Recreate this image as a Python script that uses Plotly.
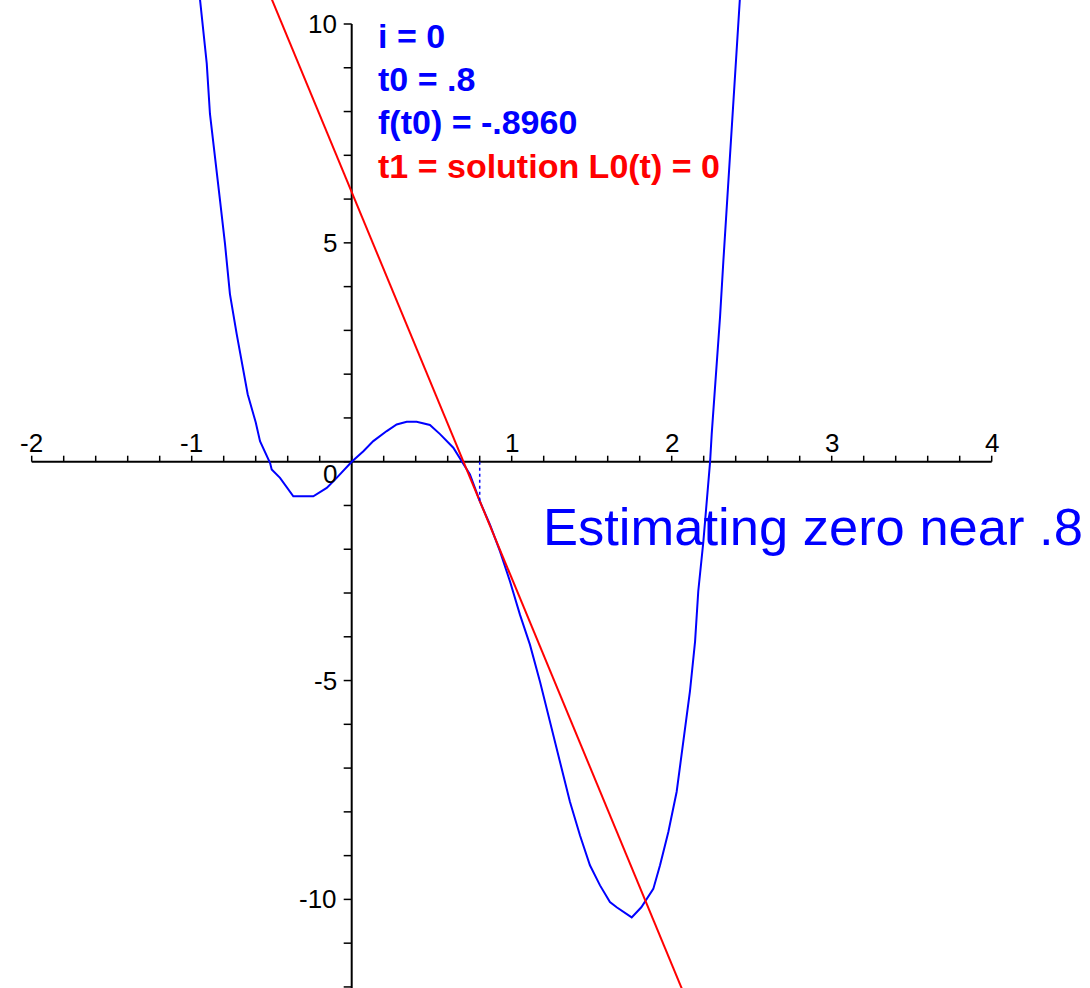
import plotly.graph_objects as go

# ---------------- data ----------------
curve_t = [-0.955, -0.927, -0.906, -0.886, -0.854, -0.823, -0.792, -0.761, -0.719,
           -0.6875, -0.65, -0.60, -0.573, -0.51, -0.50, -0.448, -0.365, -0.24,
           -0.156, -0.094, -0.045, 0.0, 0.073, 0.135, 0.219, 0.281, 0.344, 0.406,
           0.489, 0.552, 0.635, 0.6875, 0.739, 0.80, 0.864, 0.927, 0.989, 1.052,
           1.114, 1.177, 1.239, 1.302, 1.364, 1.427, 1.489, 1.552, 1.614, 1.656,
           1.75, 1.81, 1.885, 1.927, 1.979, 2.031, 2.073, 2.114, 2.146, 2.166,
           2.198, 2.229, 2.24, 2.25, 2.281, 2.302, 2.323, 2.344, 2.364, 2.385,
           2.406, 2.43]
curve_f = [10.8, 9.79, 9.10, 7.95, 6.88, 5.97, 4.98, 3.83, 2.92,
           2.30, 1.54, 0.90, 0.47, -0.03, -0.18, -0.37, -0.79, -0.79,
           -0.60, -0.37, -0.18, 0.0, 0.24, 0.47, 0.70, 0.85, 0.91, 0.91,
           0.84, 0.63, 0.32, 0.01, -0.29, -0.896, -1.44, -2.05, -2.73, -3.50,
           -4.18, -5.03, -5.94, -6.86, -7.77, -8.54, -9.22, -9.68, -10.06, -10.18,
           -10.41, -10.18, -9.76, -9.22, -8.46, -7.54, -6.40, -5.25, -4.11, -2.96,
           -1.82, -0.60, 0.0, 0.63, 2.15, 3.30, 4.59, 5.82, 7.11, 8.26,
           9.40, 10.8]

tangent_t = [-0.6, 2.2]
tangent_y = [11.452, -13.244]

t0 = 0.8
f_t0 = -0.896

x_axis_span = [-2, 4]
y_axis_top = 10
x_tick_values = [-2.0, -1.8, -1.6, -1.4, -1.2, -1.0, -0.8, -0.6, -0.4, -0.2, 0.0,
                 0.2, 0.4, 0.6, 0.8, 1.0, 1.2, 1.4, 1.6, 1.8, 2.0, 2.2, 2.4, 2.6,
                 2.8, 3.0, 3.2, 3.4, 3.6, 3.8, 4.0]
y_tick_values = [-12, -11, -10, -9, -8, -7, -6, -5, -4, -3, -2, -1, 0,
                 1, 2, 3, 4, 5, 6, 7, 8, 9, 10]
x_label_values = [-2, -1, 1, 2, 3, 4]
x_label_texts = ["-2", "-1", "1", "2", "3", "4"]
y_label_values = [10, 5, -5, -10]
y_label_texts = ["10", "5", "-5", "-10"]

info_lines = ["i = 0", "t0 = .8", "f(t0) = -.8960", "t1 = solution L0(t) = 0"]
info_colors = ["#0000ff", "#0000ff", "#0000ff", "#ff0000"]
caption = "Estimating zero near .8"

# ---------------- geometry ----------------
W, H = 1090, 988
XPX, YPX = 160.0, 43.77          # pixels per unit
X_ORIGIN, Y_ORIGIN = 351.7, 461.7  # pixel position of (0, 0)
x_range = [-X_ORIGIN / XPX, (W - X_ORIGIN) / XPX]
y_range = [-(H - Y_ORIGIN) / YPX, Y_ORIGIN / YPX]


def px_x(px):
    return (px - X_ORIGIN) / XPX


def px_y(py):
    return (Y_ORIGIN - py) / YPX


fig = go.Figure()

# axes
fig.add_trace(go.Scatter(x=[x_axis_span[0], x_axis_span[1]], y=[0, 0], mode="lines",
                         line=dict(color="black", width=2), hoverinfo="skip"))
fig.add_trace(go.Scatter(x=[0, 0], y=[y_range[0] - 1, y_axis_top], mode="lines",
                         line=dict(color="black", width=2), hoverinfo="skip"))

# tick marks
xt_len = 6 / YPX
yt_len = 8 / XPX
tx, ty = [], []
for v in x_tick_values:
    tx += [v, v, None]
    ty += [0, xt_len, None]
for v in y_tick_values:
    tx += [-yt_len, 0, None]
    ty += [v, v, None]
fig.add_trace(go.Scatter(x=tx, y=ty, mode="lines",
                         line=dict(color="black", width=1.5), hoverinfo="skip"))

# function curve
fig.add_trace(go.Scatter(x=curve_t, y=curve_f, mode="lines",
                         line=dict(color="#0000ff", width=2), hoverinfo="skip"))
# tangent line
fig.add_trace(go.Scatter(x=tangent_t, y=tangent_y, mode="lines",
                         line=dict(color="#ff0000", width=2), hoverinfo="skip"))
# dotted vertical at t0
fig.add_trace(go.Scatter(x=[t0, t0], y=[0, f_t0], mode="lines",
                         line=dict(color="#0000ff", width=1.5, dash="dot"), hoverinfo="skip"))

annotations = []
tick_font = dict(family="Liberation Sans, Arial, sans-serif", size=26, color="black")
for v, txt in zip(x_label_values, x_label_texts):
    annotations.append(dict(x=v, y=0, xref="x", yref="y", text=txt, showarrow=False,
                            xanchor="center", yanchor="middle", yshift=19,
                            font=tick_font))
for v, txt in zip(y_label_values, y_label_texts):
    annotations.append(dict(x=0, y=v, xref="x", yref="y", text=txt, showarrow=False,
                            xanchor="right", yanchor="middle", xshift=-13,
                            font=tick_font))
annotations.append(dict(x=0, y=0, xref="x", yref="y", text="0", showarrow=False,
                        xanchor="right", yanchor="middle", xshift=-13, yshift=-12,
                        font=tick_font))

info_y_px = [36, 79, 122, 166]
for txt, col, py in zip(info_lines, info_colors, info_y_px):
    annotations.append(dict(x=px_x(376), y=px_y(py), xref="x", yref="y",
                            text="<b>" + txt + "</b>", showarrow=False,
                            xanchor="left", yanchor="middle",
                            font=dict(family="Liberation Sans, Arial, sans-serif",
                                      size=34, color=col)))

annotations.append(dict(x=px_x(541), y=px_y(526), xref="x", yref="y", text=caption,
                        showarrow=False, xanchor="left", yanchor="middle",
                        font=dict(family="Liberation Sans, Arial, sans-serif",
                                  size=52.5, color="#0000ff")))

fig.update_layout(
    width=W, height=H, autosize=False,
    margin=dict(l=0, r=0, t=0, b=0, pad=0),
    paper_bgcolor="white", plot_bgcolor="white",
    showlegend=False,
    xaxis=dict(range=x_range, visible=False, fixedrange=True),
    yaxis=dict(range=y_range, visible=False, fixedrange=True),
    annotations=annotations,
)

fig.write_html("out.html", config={"displayModeBar": False},
               post_script="document.body.style.margin='0';document.body.style.overflow='hidden';")
